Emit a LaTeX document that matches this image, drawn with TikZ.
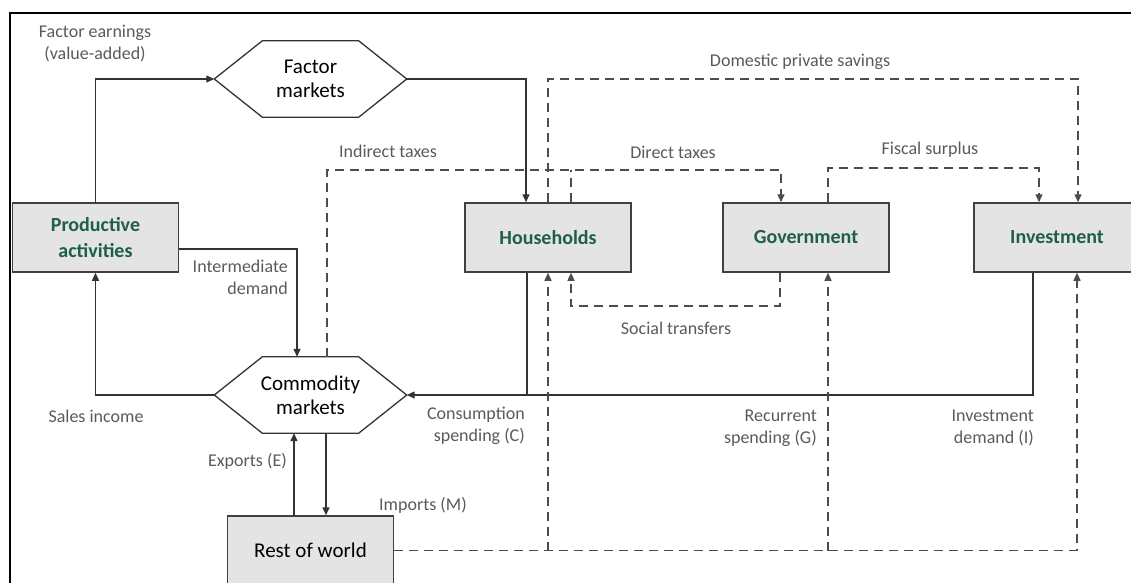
\documentclass[tikz,border=0pt]{standalone}
\usepackage{fontspec}
\setmainfont{Carlito}
\usetikzlibrary{arrows.meta}

\definecolor{boxgreen}{HTML}{1E5E4C}
\definecolor{boxfill}{HTML}{E4E4E4}
\definecolor{flowgray}{HTML}{5A5A5A}

\tikzset{
  sector/.style={draw=black!75, line width=1.5pt, fill=boxfill, minimum width=166pt, minimum height=69pt,
    font=\bfseries\fontsize{20}{26}\selectfont, text=boxgreen, align=center, inner sep=0pt},
  market/.style={minimum width=192pt, minimum height=76pt, font=\fontsize{21}{24}\selectfont, align=center, inner sep=0pt},
  line/.style={draw=black!80, line width=1.3pt},
  flow/.style={line, -{Triangle[length=8pt,width=7pt]}},
  dline/.style={draw=black!70, line width=1.4pt, dash pattern=on 9pt off 6pt},
  dflow/.style={dline, -{Triangle[length=8pt,width=7pt]}},
  lbl/.style={text=flowgray, font=\fontsize{18}{22}\selectfont, align=center, inner sep=0pt},
}

\begin{document}
\begin{tikzpicture}[x=1pt,y=-1pt]
  \useasboundingbox (0,0) rectangle (1131,582);
  \clip (0,0) rectangle (1131,582);
  % Outer frame (runs off the right and bottom edges)
  \draw[line width=2.5pt] (10,13) rectangle (1145,600);

  % Sector boxes
  \node[sector] (pa) at (95.5,237.5) {Productive\\activities};
  \node[sector] (hh) at (548,237.5) {Households};
  \node[sector] (gov) at (806,237.5) {Government};
  \node[sector] (inv) at (1057,237.5) {Investment};
  \node[sector, text=black, font=\fontsize{21}{24}\selectfont] (row) at (310.5,550.5) {Rest of world};

  % Market hexagons
  \node[market] (fm) at (310.5,79) {Factor\\markets};
  \node[market] (cm) at (310.5,395) {Commodity\\markets};
  \foreach \m in {fm,cm}
    \draw[line] (\m.west) -- ([xshift=48pt]\m.north west) -- ([xshift=-48pt]\m.north east)
      -- (\m.east) -- ([xshift=-48pt]\m.south east) -- ([xshift=48pt]\m.south west) -- cycle;

  % Attachment points on the boxes
  \coordinate (hhin) at ([xshift=-22pt]hh.north);
  \coordinate (hhtax) at ([xshift=23pt]hh.north);
  \coordinate (hhsoc) at ([xshift=23pt]hh.south);
  \coordinate (hhout) at ([xshift=-21pt]hh.south);
  \coordinate (govtop) at ([xshift=-25pt]gov.north);
  \coordinate (govsur) at ([xshift=22pt]gov.north);
  \coordinate (govsoc) at ([xshift=-26pt]gov.south);
  \coordinate (govrow) at ([xshift=22pt]gov.south);
  \coordinate (invsur) at ([xshift=-18pt]inv.north);
  \coordinate (invsav) at ([xshift=21pt]inv.north);
  \coordinate (invout) at ([xshift=-24pt]inv.south);
  \coordinate (invrow) at ([xshift=20pt]inv.south);
  \coordinate (pamid) at ([yshift=-11.5pt]pa.east);
  \coordinate (cmint) at ([xshift=-13.5pt]cm.north);
  \coordinate (cmtax) at ([xshift=16.5pt]cm.north);
  \coordinate (cmexp) at ([xshift=-16.5pt]cm.south);
  \coordinate (cmimp) at ([xshift=15.5pt]cm.south);
  \coordinate (taxlvl) at (0,170);
  \coordinate (savlvl) at (0,79);
  \coordinate (surlvl) at (0,168);
  \coordinate (soclvl) at (0,306);

  % Real flows (solid)
  \draw[flow] (pa.north) |- (fm.west);
  \draw[flow] (fm.east) -| (hhin);
  \draw[flow] (pamid) -| (cmint);
  \draw[flow] (cm.west) -| (pa.south);
  \draw[flow] (invout) |- (cm.east);
  \draw[line] (hhout) -- (hhout |- cm.east);
  \draw[flow] (cmexp |- row.north) -- (cmexp);
  \draw[flow] (cmimp) -- (cmimp |- row.north);

  % Money flows (dashed)
  \draw[dflow] (cmtax) -- (cmtax |- taxlvl) -| (govtop);
  \draw[dline] (hhtax) -- (hhtax |- taxlvl);
  \draw[dflow] (hh.north) -- (hh.north |- savlvl) -| (invsav);
  \draw[dflow] (govsur) -- (govsur |- surlvl) -| (invsur);
  \draw[dflow] (govsoc) -- (govsoc |- soclvl) -| (hhsoc);
  \draw[dflow] (row.east) -| (invrow);
  \draw[dflow] (row.east -| hh.south) -- (hh.south);
  \draw[dflow] (row.east -| govrow) -- (govrow);

  % Flow labels
  \node[lbl] (lfe) at (95,44) {Factor earnings\\(value-added)};
  \node[lbl] (lit) at (388,151) {Indirect taxes};
  \node[lbl] (ldt) at (673,152) {Direct taxes};
  \node[lbl] (lds) at (800,62) {Domestic private savings};
  \node[lbl] (lfs) at (930,150) {Fiscal surplus};
  \node[lbl, anchor=east, align=right] (lid) at (288,277) {Intermediate\\demand};
  \node[lbl] (lst) at (676,328) {Social transfers};
  \node[lbl] (lsi) at (96,416) {Sales income};
  \node[lbl, anchor=east, align=right] (lcs) at (525,426) {Consumption\\spending (C)};
  \node[lbl, anchor=east, align=right] (lrs) at (817,428) {Recurrent\\spending (G)};
  \node[lbl, anchor=east, align=right] (lin) at (1034,428) {Investment\\demand (I)};
  \node[lbl, anchor=east] (lex) at (287,461) {Exports (E)};
  \node[lbl, anchor=west] (lim) at (379,505) {Imports (M)};
\end{tikzpicture}
\end{document}
